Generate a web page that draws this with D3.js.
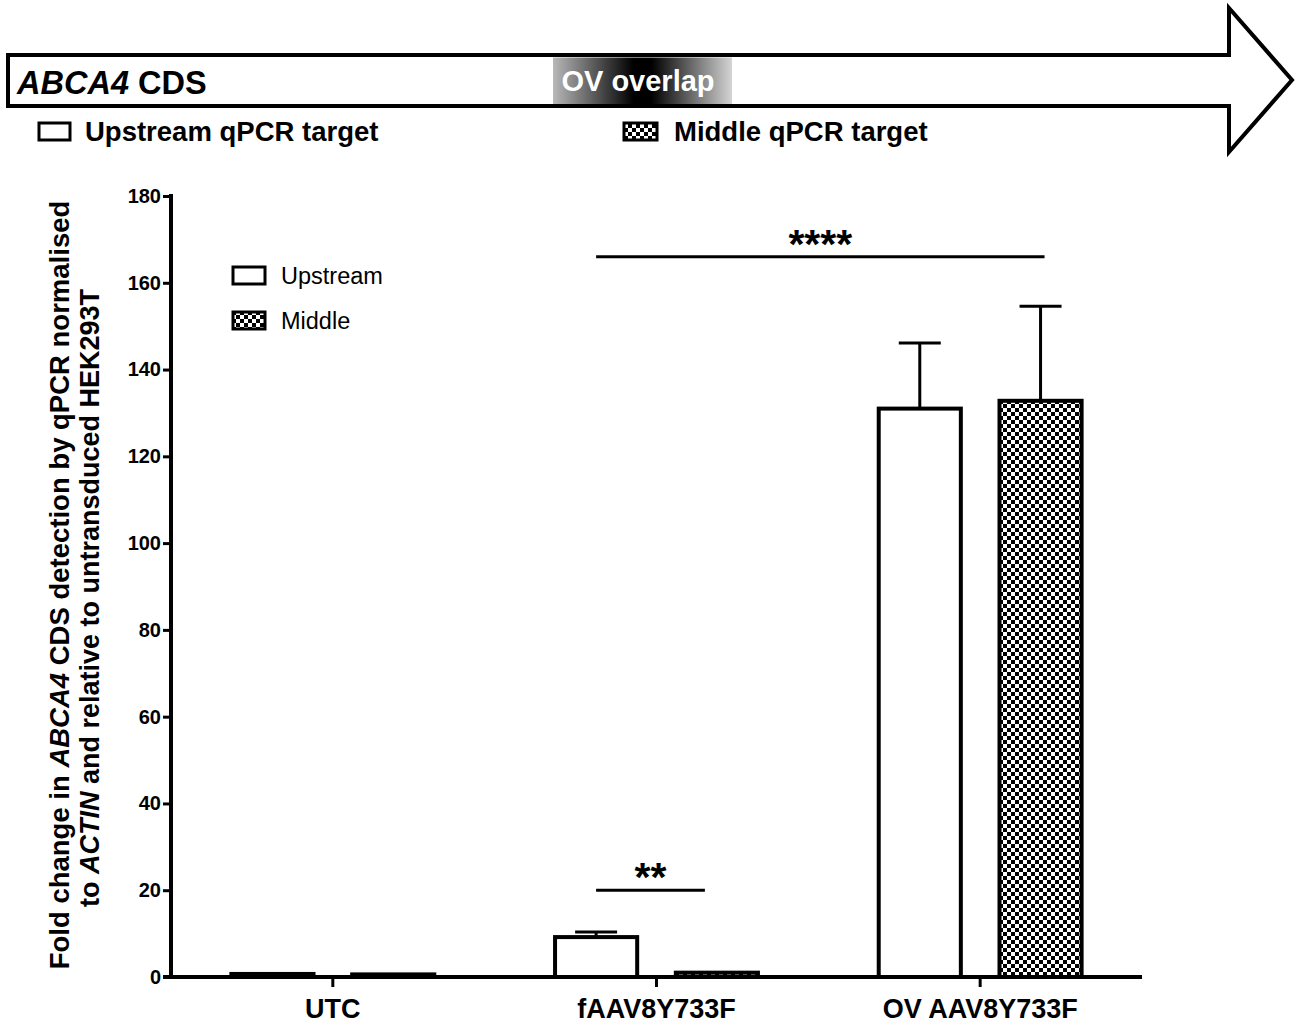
<!DOCTYPE html>
<html>
<head>
<meta charset="utf-8">
<script src="https://cdn.jsdelivr.net/npm/d3@7"></script>
<style>
  body { margin: 0; background: #fff; }
  text { font-family: "Liberation Sans", Arial, sans-serif; }
</style>
</head>
<body>
<div class="chart"></div>
<script>
// data
var groups = ["UTC", "fAAV8Y733F", "OV AAV8Y733F"];
var series = ["Upstream", "Middle"];
var upstreamMean = [0.7, 9.2, 131.0];
var upstreamErr = [0, 1.2, 15.1];
var middleMean = [0.6, 1.0, 132.8];
var middleErr = [0, 0, 21.8];
var yTicks = [0, 20, 40, 60, 80, 100, 120, 140, 160, 180];
// significance brackets, from bar centre to bar centre
var sigs = [
  {g1: "fAAV8Y733F", s1: "Upstream", g2: "fAAV8Y733F", s2: "Middle", y: 20, label: "**", trim: 12},
  {g1: "fAAV8Y733F", s1: "Upstream", g2: "OV AAV8Y733F", s2: "Middle", y: 166, label: "****", trim: -4}
];

var width = 1302, height = 1027;
var margin = {top: 196, left: 171};
var plotH = 977 - margin.top;

var svg = d3.select(".chart").append("svg")
    .attr("width", width)
    .attr("height", height);

var defs = svg.append("defs");
var pat = defs.append("pattern")
    .attr("id", "checker")
    .attr("patternUnits", "userSpaceOnUse")
    .attr("width", 8).attr("height", 8);
pat.append("rect").attr("width", 8).attr("height", 8).attr("fill", "#fff");
pat.append("rect").attr("width", 4).attr("height", 4).attr("fill", "#000");
pat.append("rect").attr("x", 4).attr("y", 4).attr("width", 4).attr("height", 4).attr("fill", "#000");

var grad = defs.append("linearGradient").attr("id", "ovgrad");
grad.append("stop").attr("offset", "0%").attr("stop-color", "#b8b8b8");
grad.append("stop").attr("offset", "45%").attr("stop-color", "#000");
grad.append("stop").attr("offset", "55%").attr("stop-color", "#000");
grad.append("stop").attr("offset", "100%").attr("stop-color", "#d4d4d4");

// --- top schematic: ABCA4 CDS arrow ---
var arrowPts = [[8, 55], [1229, 55], [1229, 8], [1292, 80], [1229, 152], [1229, 106], [8, 106]];
svg.append("polygon")
    .attr("points", arrowPts.map(function(p) { return p.join(","); }).join(" "))
    .attr("fill", "#fff")
    .attr("stroke", "#000")
    .attr("stroke-width", 4)
    .attr("stroke-linejoin", "miter");

svg.append("rect")
    .attr("x", 553).attr("y", 57.5)
    .attr("width", 179).attr("height", 46.5)
    .attr("fill", "url(#ovgrad)");
svg.append("text")
    .attr("x", 638).attr("y", 91)
    .attr("text-anchor", "middle")
    .attr("fill", "#fff")
    .style("font-size", "29px").style("font-weight", "bold")
    .text("OV overlap");

var cds = svg.append("text")
    .attr("x", 17).attr("y", 94)
    .style("font-size", "32.5px").style("font-weight", "bold");
cds.append("tspan").style("font-style", "italic").text("ABCA4");
cds.append("tspan").text(" CDS");

// schematic legend
svg.append("rect").attr("x", 39).attr("y", 123).attr("width", 31).attr("height", 17)
    .attr("fill", "#fff").attr("stroke", "#000").attr("stroke-width", 3);
svg.append("text").attr("x", 85).attr("y", 141)
    .style("font-size", "27.5px").style("font-weight", "bold").text("Upstream qPCR target");
svg.append("rect").attr("x", 624).attr("y", 123).attr("width", 33).attr("height", 17)
    .attr("fill", "url(#checker)").attr("stroke", "#000").attr("stroke-width", 3);
svg.append("text").attr("x", 674).attr("y", 141)
    .style("font-size", "27.5px").style("font-weight", "bold").text("Middle qPCR target");

// --- bar chart ---
var g = svg.append("g").attr("transform", "translate(" + margin.left + "," + margin.top + ")");

var x0 = d3.scaleBand().domain(groups).range([0, 971]).padding(0);
var x1 = d3.scaleBand().domain(series).range([0, x0.bandwidth()])
    .paddingInner(0.32).paddingOuter(0.5);
var y = d3.scaleLinear().domain([0, 180]).range([plotH, 0]);

function barMid(gr, s) { return x0(gr) + x1(s) + x1.bandwidth() / 2; }

var rows = [];
groups.forEach(function(gr, i) {
  rows.push({group: gr, series: "Upstream", mean: upstreamMean[i], err: upstreamErr[i]});
  rows.push({group: gr, series: "Middle", mean: middleMean[i], err: middleErr[i]});
});

// error bars (upper half only, bar drawn on top)
var eb = g.selectAll(".err").data(rows.filter(function(d) { return d.err > 0; }))
  .enter().append("g").attr("class", "err");
eb.append("line")
    .attr("x1", function(d) { return barMid(d.group, d.series); })
    .attr("x2", function(d) { return barMid(d.group, d.series); })
    .attr("y1", function(d) { return y(d.mean); })
    .attr("y2", function(d) { return y(d.mean + d.err); })
    .attr("stroke", "#000").attr("stroke-width", 3);
eb.append("line")
    .attr("x1", function(d) { return barMid(d.group, d.series) - 21; })
    .attr("x2", function(d) { return barMid(d.group, d.series) + 21; })
    .attr("y1", function(d) { return y(d.mean + d.err); })
    .attr("y2", function(d) { return y(d.mean + d.err); })
    .attr("stroke", "#000").attr("stroke-width", 3);

g.selectAll(".bar").data(rows).enter().append("rect")
    .attr("class", "bar")
    .attr("x", function(d) { return x0(d.group) + x1(d.series); })
    .attr("y", function(d) { return y(d.mean); })
    .attr("width", x1.bandwidth())
    .attr("height", function(d) { return y(0) - y(d.mean); })
    .attr("fill", function(d) { return d.series === "Middle" ? "url(#checker)" : "#fff"; })
    .attr("stroke", "#000")
    .attr("stroke-width", 4);

// axes
var yAxis = d3.axisLeft(y).tickValues(yTicks).tickSize(8).tickPadding(2);
var ya = g.append("g").call(yAxis);
ya.select(".domain").attr("stroke-width", 4).attr("d", "M0," + (plotH + 2) + "V-2");
ya.selectAll(".tick line").attr("stroke-width", 3);
ya.selectAll(".tick text")
    .style("font-size", "20px").style("font-weight", "bold")
    .attr("fill", "#000").attr("font-family", null);

var xAxis = d3.axisBottom(x0).tickSize(10).tickPadding(12);
var xa = g.append("g").attr("transform", "translate(0," + plotH + ")").call(xAxis);
xa.select(".domain").attr("stroke-width", 4).attr("d", "M-8,0H971");
xa.selectAll(".tick line").attr("stroke-width", 3);
xa.selectAll(".tick text")
    .style("font-size", "27px").style("font-weight", "bold")
    .attr("fill", "#000").attr("font-family", null);

// significance
sigs.forEach(function(s) {
  var xa1 = barMid(s.g1, s.s1),
      xa2 = barMid(s.g2, s.s2) - s.trim;
  g.append("line")
      .attr("x1", xa1).attr("x2", xa2)
      .attr("y1", y(s.y)).attr("y2", y(s.y))
      .attr("stroke", "#000").attr("stroke-width", 3);
  g.append("text")
      .attr("x", (xa1 + xa2) / 2).attr("y", y(s.y) + 1)
      .attr("text-anchor", "middle")
      .style("font-size", "41px").style("font-weight", "bold")
      .text(s.label);
});

// legend inside plot
var leg = g.append("g").attr("transform", "translate(61,70)");
series.forEach(function(s, i) {
  var row = leg.append("g").attr("transform", "translate(0," + (i * 45) + ")");
  row.append("rect").attr("x", 1).attr("y", 1).attr("width", 32).attr("height", 17)
      .attr("fill", s === "Middle" ? "url(#checker)" : "#fff")
      .attr("stroke", "#000").attr("stroke-width", 3);
  row.append("text").attr("x", 49).attr("y", 18)
      .style("font-size", "23.5px").text(s);
});

// y title
var yt = svg.append("text")
    .attr("transform", "translate(69,585) rotate(-90)")
    .attr("text-anchor", "middle")
    .style("font-size", "27.5px").style("font-weight", "bold");
yt.append("tspan").text("Fold change in ");
yt.append("tspan").style("font-style", "italic").text("ABCA4");
yt.append("tspan").text(" CDS detection by qPCR normalised");
var yt2 = svg.append("text")
    .attr("transform", "translate(99,598) rotate(-90)")
    .attr("text-anchor", "middle")
    .style("font-size", "27px").style("font-weight", "bold");
yt2.append("tspan").text("to ");
yt2.append("tspan").style("font-style", "italic").text("ACTIN");
yt2.append("tspan").text(" and relative to untransduced HEK293T");
</script>
</body>
</html>
